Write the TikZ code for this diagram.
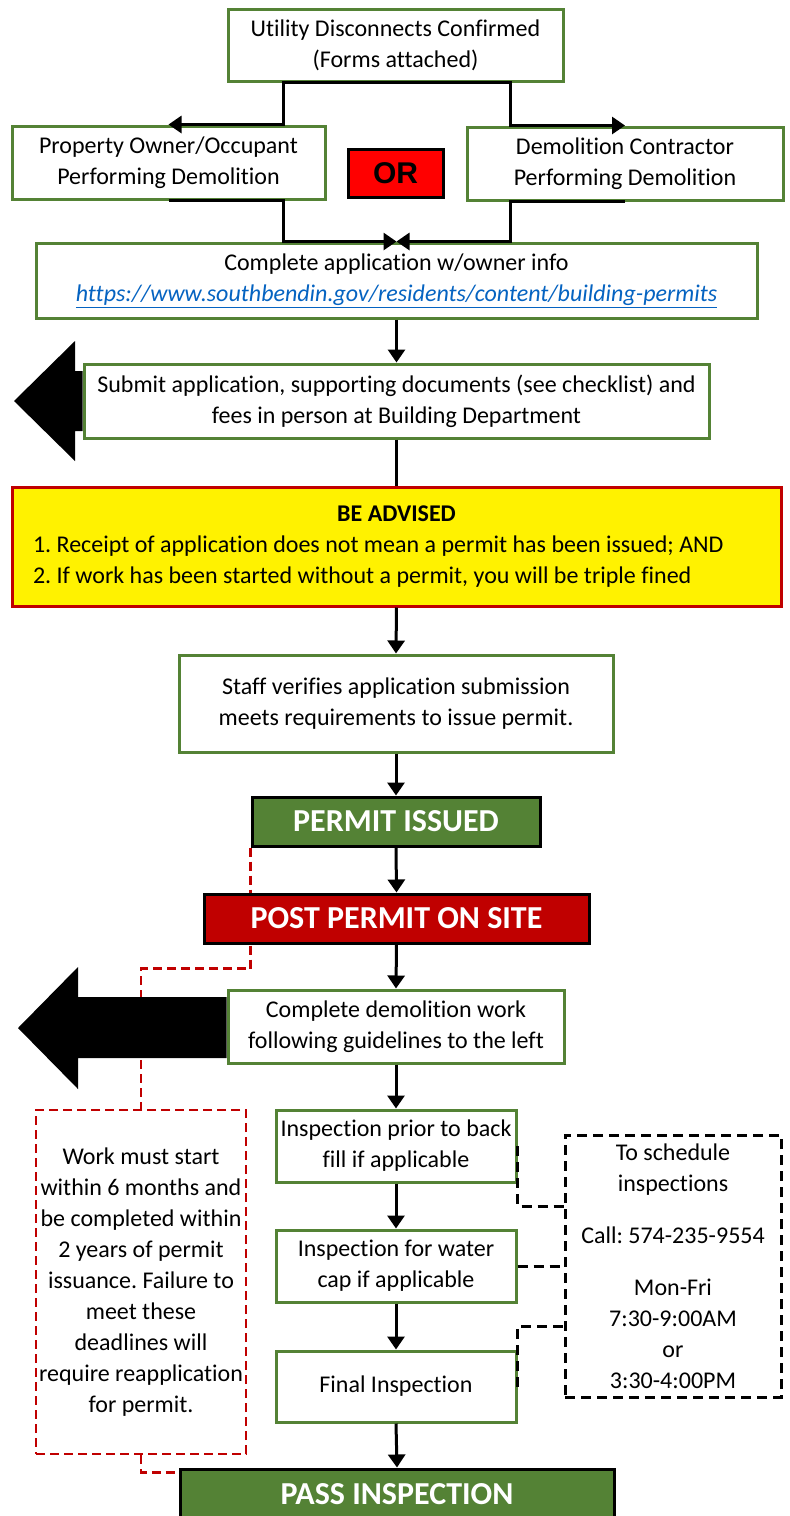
\documentclass[tikz,border=0pt]{standalone}
\usepackage{fontspec}
\setmainfont[Ligatures=CommonOff]{Carlito}
\newfontfamily\arialfont{Liberation Sans}
\usetikzlibrary{arrows.meta,backgrounds}
\definecolor{bgreen}{RGB}{84,130,53}
\definecolor{dred}{RGB}{192,0,0}
\definecolor{brred}{RGB}{255,0,0}
\definecolor{linkblue}{RGB}{5,99,193}
\frenchspacing
\begin{document}
\begin{tikzpicture}[x=1pt,y=-1pt,
  every node/.style={font=\fontsize{24}{31}\selectfont, inner sep=0pt, align=center},
  gbox/.style={draw=bgreen, line width=3pt, fill=white},
  boldbox/.style={draw=black, line width=3pt, text=white, font=\fontsize{32}{38}\selectfont\bfseries},
  conn/.style={line width=3pt, draw=black},
  arr/.style={conn, -{Triangle[length=13pt,width=17pt]}},
  reddash/.style={draw=dred, line width=2.5pt, dash pattern=on 9pt off 5pt},
  blkdash/.style={draw=black, line width=3pt, dash pattern=on 10pt off 6pt},
  bigarrow/.style={fill=black}
]
\clip (0,0) rectangle (790,1516);

% nodes
\node[gbox, minimum width=335pt, minimum height=72pt] (top) at (395.5,45) {Utility Disconnects Confirmed\\(Forms attached)};
\node[gbox, minimum width=313pt, minimum height=73pt] (left) at (168.5,162.5) {Property Owner/Occupant\\Performing Demolition};
\node[gbox, minimum width=316pt, minimum height=73pt] (right) at (625,163.5) {Demolition Contractor\\Performing Demolition};
\node[draw=black, line width=3pt, fill=brred, minimum width=95pt, minimum height=48pt, font=\arialfont\fontsize{30}{34}\selectfont\bfseries] (or) at (395.5,173) {OR};
\node[gbox, minimum width=721pt, minimum height=75pt] (app) at (396.5,280.5) {Complete application w/owner info\\\textcolor{linkblue}{\underline{\textit{https://www.southbendin.gov/residents/content/building-permits}}}};
\node[gbox, minimum width=625pt, minimum height=74pt] (submit) at (396.5,401) {Submit application, supporting documents (see checklist) and\\fees in person at Building Department};
\node[draw=dred, line width=3pt, fill=yellow, minimum width=769pt, minimum height=119pt, align=left] (advise) at (396.5,546.5) {\makebox[727pt]{\bfseries BE ADVISED}\\1. Receipt of application does not mean a permit has been issued; AND\\2. If work has been started without a permit, you will be triple fined};
\node[gbox, minimum width=434pt, minimum height=97pt] (staff) at (396,703.5) {Staff verifies application submission\\meets requirements to issue permit.};
\node[boldbox, fill=bgreen, minimum width=288pt, minimum height=49pt] (permit) at (396,821.5) {PERMIT ISSUED};
\node[boldbox, fill=dred, minimum width=385pt, minimum height=49pt] (post) at (396.5,918.5) {POST PERMIT ON SITE};
\node[gbox, minimum width=336pt, minimum height=73pt] (demo) at (396,1026.5) {Complete demolition work\\following guidelines to the left};
\node[gbox, minimum width=240pt, minimum height=72pt] (insp1) at (396,1146) {Inspection prior to back\\fill if applicable};
\node[gbox, minimum width=240pt, minimum height=72pt] (insp2) at (396,1266) {Inspection for water\\cap if applicable};
\node[gbox, minimum width=240pt, minimum height=71pt] (insp3) at (396,1386.5) {Final Inspection};
\node[boldbox, fill=bgreen, minimum width=434pt, minimum height=50pt] (pass) at (397,1494) {PASS INSPECTION};
\node[reddash, fill=white, minimum width=210pt, minimum height=344pt] (work) at (141,1282) {Work must start\\within 6 months and\\be completed within\\2 years of permit\\issuance. Failure to\\meet these\\deadlines will\\require reapplication\\for permit.};
\node[blkdash, fill=white, minimum width=216pt, minimum height=262pt] (sched) at (673,1266) {To schedule\\inspections\\[21pt]Call: 574-235-9554\\[21pt]Mon-Fri\\7:30-9:00AM\\or\\3:30-4:00PM};

% background: red dashed connector and big arrows
\begin{scope}[on background layer]
\draw[reddash] (permit.south west) -- ++(0,121) -| (work.north);
\fill[bigarrow] (submit.west |- 0,371) -- (75,371) -- (75,341) -- (14,401) -- (75,461) -- (75,431) -- (submit.west |- 0,431) -- cycle;
\fill[bigarrow] (demo.west |- 0,997) -- (78,997) -- (78,967) -- (18,1028) -- (78,1089) -- (78,1058) -- (demo.west |- 0,1058) -- cycle;
\end{scope}

% connectors
\draw[arr] (top.south) -- ++(-112.5,0) |- (left.north);
\draw[arr] (top.south) -- ++(114.5,0) |- (right.north);
\draw[arr] (left.south) -- ++(114.5,0) |- (app.north);
\draw[arr] (right.south) -- ++(-115,0) |- (app.north);
\draw[arr] (app.south) -- (submit.north);
\draw[conn] (submit.south) -- (advise.north);
\draw[arr] (advise.south) -- (staff.north);
\draw[arr] (staff.south) -- (permit.north);
\draw[arr] (permit.south) -- (post.north);
\draw[arr] (post.south) -- (demo.north);
\draw[arr] (demo.south) -- (insp1.north);
\draw[arr] (insp1.south) -- (insp2.north);
\draw[arr] (insp2.south) -- (insp3.north);
\draw[arr] (insp3.south) -- (pass.north);
\draw[reddash] (work.south) |- ([yshift=-5pt]pass.north west);
\draw[blkdash] (insp1.east) |- ([yshift=60pt]sched.west);
\draw[blkdash] (insp2.east) -- (sched.west);
\draw[blkdash] (insp3.east) |- ([yshift=-60pt]sched.west);
\end{tikzpicture}
\end{document}
